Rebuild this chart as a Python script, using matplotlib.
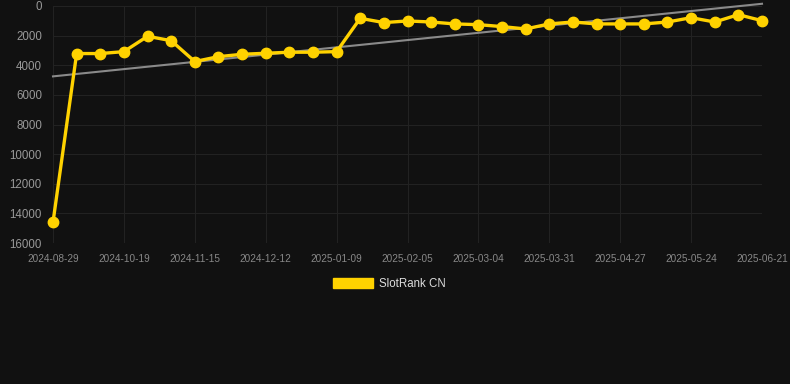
import numpy as np
import matplotlib
matplotlib.use("Agg")
import matplotlib.pyplot as plt
from matplotlib.patches import Patch

plt.rcParams['font.family'] = ['Liberation Sans', 'DejaVu Sans']

tick_labels = ["2024-08-29", "2024-10-19", "2024-11-15", "2024-12-12", "2025-01-09",
               "2025-02-05", "2025-03-04", "2025-03-31", "2025-04-27", "2025-05-24",
               "2025-06-21"]
rank = [14600, 3210, 3210, 3080, 2045, 2340, 3750, 3420, 3260, 3190, 3120,
        3120, 3080, 830, 1120, 1010, 1080, 1210, 1260, 1390, 1550, 1210,
        1080, 1210, 1210, 1210, 1080, 790, 1080, 585, 990]
series_name = "SlotRank CN"

BG = "#111111"
GOLD = "#FFD200"

fig = plt.figure(figsize=(7.9, 3.84), dpi=100, facecolor=BG)
ax = fig.add_axes([53/790, 1-243/384, (762-53)/790, (243-6)/384], facecolor=BG)

x = np.arange(len(rank))
coef = np.polyfit(x, rank, 1)
trend = np.polyval(coef, x)
ax.plot(x, trend, color="#8a8a8a", lw=1.5, zorder=2, clip_on=False)
ax.plot(x, rank, color=GOLD, lw=2.4, marker='o', markersize=7.5, zorder=3, clip_on=False)

ax.set_xlim(0, len(rank)-1)
ax.set_ylim(16000, 0)
ax.set_yticks(np.arange(0, 16001, 2000))
ax.set_xticks(np.arange(0, len(rank), 3))
ax.set_xticklabels(tick_labels)
ax.tick_params(axis='x', colors="#888888", labelsize=7.2, length=0, pad=8)
ax.tick_params(axis='y', colors="#999999", labelsize=8.3, length=0, pad=8)
ax.grid(True, color="#222222", lw=0.8)
for s in ax.spines.values():
    s.set_visible(False)

fig.legend(handles=[Patch(facecolor=GOLD, edgecolor=GOLD)], labels=[series_name],
           loc='center', bbox_to_anchor=(389.5/790, 1-284/384), frameon=False,
           handlelength=3.45, handleheight=1.0, handletextpad=0.5,
           fontsize=8.3, labelcolor="#dddddd")

fig.savefig("out.png", dpi=100, facecolor=BG)
